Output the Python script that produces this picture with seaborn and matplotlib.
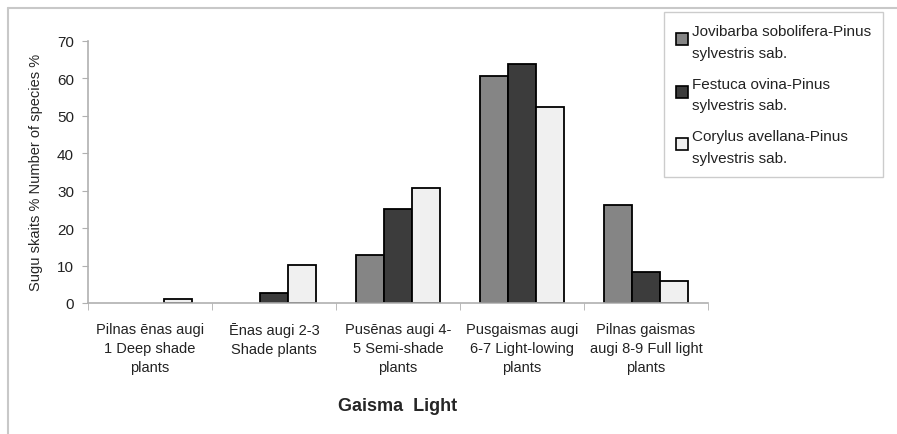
import matplotlib
matplotlib.use("Agg")
import matplotlib.pyplot as plt
import seaborn as sns
import pandas as pd
import numpy as np
from matplotlib.lines import Line2D
from matplotlib.legend_handler import HandlerLine2D

categories = [
    "Pilnas ēnas augi\n1 Deep shade\nplants",
    "Ēnas augi 2-3\nShade plants",
    "Pusēnas augi 4-\n5 Semi-shade\nplants",
    "Pusgaismas augi\n6-7 Light-lowing\nplants",
    "Pilnas gaismas\naugi 8-9 Full light\nplants",
]
series_names = [
    "Jovibarba sobolifera-Pinus\nsylvestris sab.",
    "Festuca ovina-Pinus\nsylvestris sab.",
    "Corylus avellana-Pinus\nsylvestris sab.",
]
jovibarba = [0, 0, 12.8, 60.7, 26.2]
festuca = [0, 2.7, 25.0, 63.8, 8.3]
corylus = [1.0, 10.1, 30.8, 52.3, 5.8]
colors = ["#858585", "#3c3c3c", "#f0f0f0"]

rows = []
for name, vals in zip(series_names, [jovibarba, festuca, corylus]):
    for c, v in zip(categories, vals):
        rows.append({"cat": c, "series": name, "value": v})
df = pd.DataFrame(rows)

sns.set_style("white")
plt.rcParams['font.family'] = ['Liberation Sans', 'DejaVu Sans']

fig = plt.figure(figsize=(8.97, 4.35), dpi=100)
ax = fig.add_axes([88/897, 1-304/435, (708-88)/897, (304-41.7)/435])

sns.barplot(data=df, x="cat", y="value", hue="series", order=categories,
            hue_order=series_names, palette=colors, width=0.67, gap=0,
            edgecolor="black", linewidth=1.3, ax=ax, legend=False, saturation=1)
for p in ax.patches:
    if p.get_height() == 0:
        p.set_linewidth(0)

ax.set_ylim(0, 70)
ax.set_xlim(-0.5, 4.5)
ax.set_yticks(range(0, 71, 10))
ax.tick_params(axis='y', labelsize=11, length=4, color="#b0b0b0", left=True, labelcolor="#222222", pad=6)
ax.set_xticks(range(5))
ax.set_xticklabels(categories, fontsize=10.5, linespacing=1.45, color="#222222")
ax.tick_params(axis='x', which='major', length=0, pad=14)
ax.set_xticks(np.arange(-0.5, 5, 1), minor=True)
ax.tick_params(axis='x', which='minor', length=5, color="#b0b0b0", bottom=True)
for s in ["top", "right"]:
    ax.spines[s].set_visible(False)
for s in ["left", "bottom"]:
    ax.spines[s].set_color("#b0b0b0")
    ax.spines[s].set_linewidth(1.2)

ax.set_xlabel("Gaisma  Light", fontsize=13, fontweight="bold", labelpad=16)
ax.set_ylabel("Sugu skaits % Number of species %", fontsize=10.5, labelpad=10)


class TopHandler(HandlerLine2D):
    def create_artists(self, legend, orig_handle, xdescent, ydescent,
                       width, height, fontsize, trans):
        arts = super().create_artists(legend, orig_handle, xdescent, ydescent,
                                      width, height, fontsize, trans)
        for a in arts:
            x, y = a.get_data()
            a.set_data(x, np.asarray(y) + height * 0.27)
        return arts


handles = [Line2D([], [], marker='s', linestyle='none', markersize=8.5,
                  markerfacecolor=c, markeredgecolor='black', markeredgewidth=1.2)
           for c in colors]
leg = fig.legend(handles, series_names, loc="upper left",
                 bbox_to_anchor=(664/897, 1-13/435), fontsize=11,
                 frameon=True, fancybox=False, edgecolor="#c0c0c0",
                 handlelength=0.7, handletextpad=0.3, labelspacing=1.1,
                 borderpad=0.8, borderaxespad=0,
                 handler_map={Line2D: TopHandler()})
for t in leg.get_texts():
    t.set_linespacing(1.7)
    t.set_color("#222222")
leg.get_frame().set_linewidth(1.0)

fig.add_artist(Line2D([8/897, 1], [1-9/435, 1-9/435], color="#c8c8c8", lw=1.5))
fig.add_artist(Line2D([8/897, 8/897], [0, 1-9/435], color="#c8c8c8", lw=1.5))

fig.savefig("out.png", dpi=100)
